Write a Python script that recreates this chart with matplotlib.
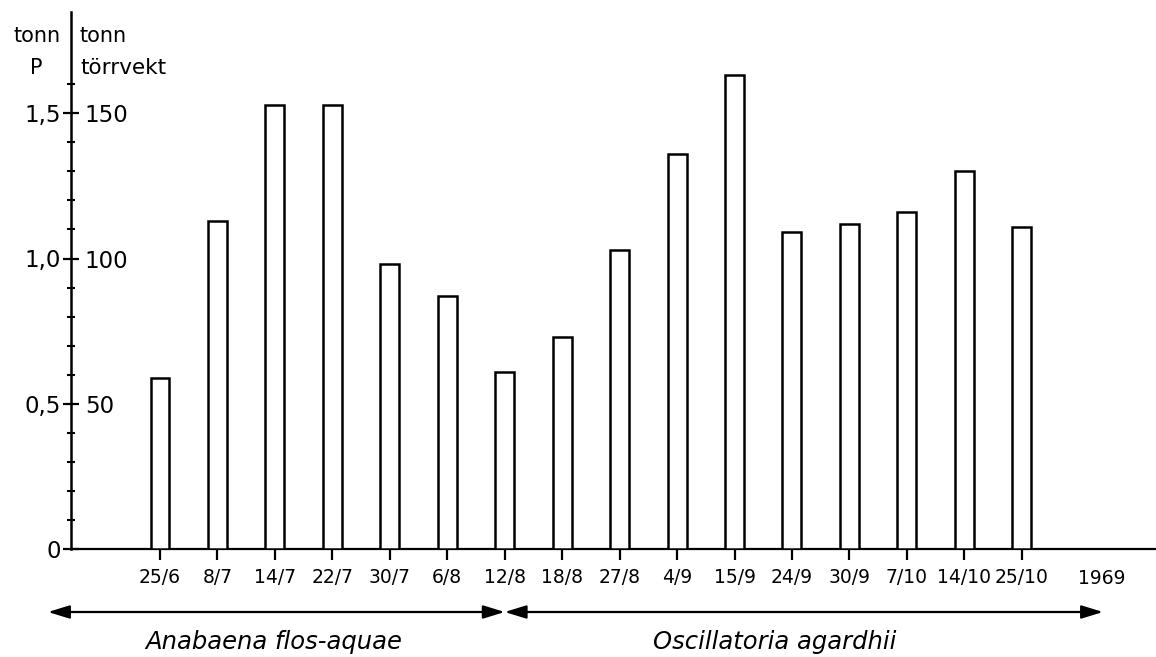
import matplotlib
matplotlib.use("Agg")
import matplotlib.pyplot as plt
from matplotlib.ticker import FixedLocator
import numpy as np

# ---- data ----
dates = ["25/6", "8/7", "14/7", "22/7", "30/7", "6/8", "12/8", "18/8",
         "27/8", "4/9", "15/9", "24/9", "30/9", "7/10", "14/10", "25/10"]
tonn_p = [0.59, 1.13, 1.53, 1.53, 0.98, 0.87, 0.61, 0.73,
          1.03, 1.36, 1.63, 1.09, 1.12, 1.16, 1.30, 1.11]
left_ticks = [0, 0.5, 1.0, 1.5]
left_labels = ["0", "0,5", "1,0", "1,5"]
right_ticks = [0.5, 1.0, 1.5]
right_labels = ["50", "100", "150"]
year_label = "1969"
species = ["Anabaena flos-aquae", "Oscillatoria agardhii"]
split_index = 6  # 12/8

W, H = 1156, 657
fig = plt.figure(figsize=(W / 100, H / 100), dpi=100)
fig.patch.set_facecolor("white")

ax_left_px, ax_bottom_px, ax_top_px = 71, 549, 12
ax_w_px = W - ax_left_px
ax = fig.add_axes([ax_left_px / W, (H - ax_bottom_px) / H,
                   ax_w_px / W, (ax_bottom_px - ax_top_px) / H])

x0_px, dx_px = 160, 57.45
xmin = (ax_left_px - x0_px) / dx_px
xmax = (W - x0_px) / dx_px
units_px = 290.5
ymax = (ax_bottom_px - ax_top_px) / units_px
ax.set_xlim(xmin, xmax)
ax.set_ylim(0, ymax)

x = np.arange(len(dates))
ax.bar(x, tonn_p, width=0.33, facecolor="white", edgecolor="black",
       linewidth=1.8, zorder=3)

for s in ["top", "right"]:
    ax.spines[s].set_visible(False)
ax.spines["left"].set_linewidth(1.8)
ax.spines["bottom"].set_linewidth(1.6)

# y ticks
ax.set_yticks(left_ticks)
ax.set_yticklabels(left_labels, fontsize=16.5)
ax.yaxis.set_minor_locator(FixedLocator(np.round(np.arange(0.1, 1.7, 0.1), 2)))
ax.tick_params(axis="y", which="major", direction="inout", length=11,
               width=1.6, pad=2)
ax.tick_params(axis="y", which="minor", direction="inout", length=6,
               width=1.5)

# x ticks
ax.set_xticks(x)
ax.set_xticklabels(dates, fontsize=13.5)
ax.tick_params(axis="x", which="major", direction="out", length=8,
               width=1.6, pad=6)

# right-side labels on the same spine
ax2 = ax.twinx()
ax2.set_ylim(ax.get_ylim())
for s in ["top", "left", "bottom", "right"]:
    ax2.spines[s].set_visible(False)
ax2.spines["right"].set_position(("axes", 0))
ax2.set_yticks(right_ticks)
ax2.set_yticklabels(right_labels, fontsize=16.5)
ax2.tick_params(axis="y", length=0, pad=10)

# header labels
def ax_x(px):
    return (px - ax_left_px) / ax_w_px

ax.text(ax_x(37), 0.955, "tonn", transform=ax.transAxes, ha="center",
        va="center", fontsize=15)
ax.text(ax_x(36), 0.895, "P", transform=ax.transAxes, ha="center",
        va="center", fontsize=15)
ax.text(ax_x(80), 0.955, "tonn", transform=ax.transAxes, ha="left",
        va="center", fontsize=15)
ax.text(ax_x(80), 0.895, "törrvekt", transform=ax.transAxes, ha="left",
        va="center", fontsize=15.5)

trans = ax.get_xaxis_transform()
ax.text((1102 - x0_px) / dx_px, -0.055, year_label, transform=trans,
        ha="center", va="center", fontsize=13.5)

# arrows
arrow_y = -(612 - ax_bottom_px) / (ax_bottom_px - ax_top_px)
left_end = (48 - x0_px) / dx_px
right_end = (1103 - x0_px) / dx_px
props = dict(arrowstyle="<|-|>,head_length=1.3,head_width=0.4",
             color="black", lw=1.6, shrinkA=0, shrinkB=0)
ax.annotate("", xy=(split_index, arrow_y), xytext=(left_end, arrow_y),
            xycoords=trans, textcoords=trans, arrowprops=props)
ax.annotate("", xy=(right_end, arrow_y), xytext=(split_index, arrow_y),
            xycoords=trans, textcoords=trans, arrowprops=props)

species_y = -(642 - ax_bottom_px) / (ax_bottom_px - ax_top_px)
ax.text((274 - x0_px) / dx_px, species_y, species[0], transform=trans,
        ha="center", va="center", fontsize=17.5, style="italic")
ax.text((775 - x0_px) / dx_px, species_y, species[1], transform=trans,
        ha="center", va="center", fontsize=17.5, style="italic")

fig.savefig("out.png", dpi=100, facecolor="white")
